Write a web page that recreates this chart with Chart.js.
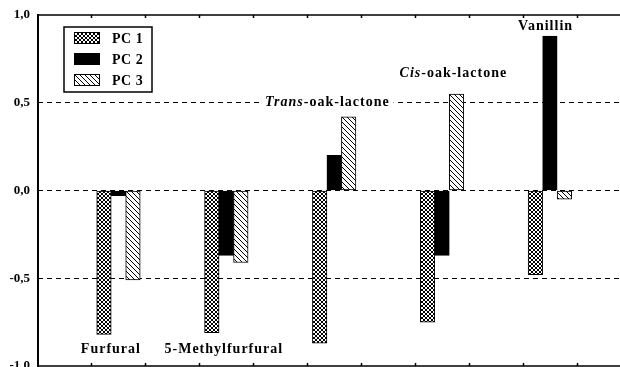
<!DOCTYPE html>
<html>
<head>
<meta charset="utf-8">
<script src="https://cdn.jsdelivr.net/npm/chart.js"></script>
<style>body{margin:0;background:#fff}</style>
</head>
<body>
<canvas id="pcaChart" width="620" height="367"></canvas>
<script>
const compounds = ['Furfural', '5-Methylfurfural', 'Trans-oak-lactone', 'Cis-oak-lactone', 'Vanillin'];
const pc1 = [-0.82, -0.81, -0.87, -0.75, -0.48];
const pc2 = [-0.03, -0.37, 0.20, -0.37, 0.88];
const pc3 = [-0.51, -0.41, 0.42, 0.55, -0.05];
const yTicks = [-1, -0.5, 0, 0.5, 1];

const serif = '"Liberation Serif", "Times New Roman", serif';

function makePattern(kind) {
  const n = kind === 'cross' ? 4 : 5;
  const c = document.createElement('canvas');
  c.width = c.height = n;
  const g = c.getContext('2d');
  g.fillStyle = '#fff';
  g.fillRect(0, 0, n, n);
  g.strokeStyle = '#000';
  g.lineWidth = 1;
  g.beginPath();
  g.moveTo(-1, -1); g.lineTo(n + 1, n + 1);
  if (kind === 'cross') { g.moveTo(n + 1, -1); g.lineTo(-1, n + 1); }
  g.stroke();
  return g.createPattern(c, 'repeat');
}

const crossFill = makePattern('cross');
const diagFill = makePattern('diag');

const toPoints = arr => arr.map((v, i) => ({x: i + 1, y: v}));

// category name labels drawn inside the plot (x in category units, y in data units)
const nameLabels = {
  id: 'nameLabels',
  spots: [
    {parts: [['Furfural', false]], x: 0.93, y: -0.905},
    {parts: [['5-Methylfurfural', false]], x: 1.977, y: -0.905},
    {parts: [['Trans', true], ['-oak-lactone', false]], x: 2.937, y: 0.503},
    {parts: [['Cis', true], ['-oak-lactone', false]], x: 4.105, y: 0.668},
    {parts: [['Vanillin', false]], x: 4.96, y: 0.935}
  ],
  afterDatasetsDraw(chart) {
    const {ctx, scales: {x, y}} = chart;
    ctx.save();
    ctx.letterSpacing = '1px';
    ctx.textBaseline = 'middle';
    ctx.textAlign = 'left';
    this.spots.forEach(s => {
      const widths = s.parts.map(([t, it]) => {
        ctx.font = (it ? 'italic ' : '') + 'bold 14px ' + serif;
        return ctx.measureText(t).width;
      });
      const total = widths.reduce((a, b) => a + b, 0);
      let px = x.getPixelForValue(s.x) - total / 2;
      const py = y.getPixelForValue(s.y);
      ctx.fillStyle = '#fff';
      ctx.fillRect(px - 4, py - 8, total + 8, 16);
      ctx.fillStyle = '#000';
      s.parts.forEach(([t, it], k) => {
        ctx.font = (it ? 'italic ' : '') + 'bold 14px ' + serif;
        ctx.fillText(t, px, py);
        px += widths[k];
      });
    });
    ctx.restore();
  }
};

const frame = {
  id: 'frame',
  beforeDatasetsDraw(chart) {
    const {ctx, chartArea: a, scales: {x}} = chart;
    ctx.save();
    ctx.strokeStyle = '#000';
    ctx.lineWidth = 1.5;
    ctx.beginPath();
    ctx.moveTo(a.left, a.top); ctx.lineTo(a.right, a.top);
    ctx.moveTo(a.left, a.bottom); ctx.lineTo(a.right, a.bottom);
    for (let v = 0.75; v < x.max; v += 0.5) {
      const px = Math.round(x.getPixelForValue(v)) + 0.5;
      ctx.moveTo(px, a.top); ctx.lineTo(px, a.top + 3);
      ctx.moveTo(px, a.bottom); ctx.lineTo(px, a.bottom - 3);
    }
    ctx.stroke();
    ctx.lineWidth = 2;
    ctx.beginPath();
    ctx.moveTo(a.left, a.top - 1); ctx.lineTo(a.left, a.bottom + 1);
    ctx.stroke();
    ctx.restore();
  }
};

const boxLegend = {
  id: 'boxLegend',
  afterDraw(chart) {
    const {ctx} = chart;
    ctx.save();
    ctx.fillStyle = '#fff';
    ctx.fillRect(64, 27, 88, 65);
    ctx.strokeStyle = '#000';
    ctx.lineWidth = 1.5;
    ctx.strokeRect(64, 27, 88, 65);
    ctx.font = 'bold 14px ' + serif;
    ctx.textBaseline = 'middle';
    ctx.letterSpacing = '0.5px';
    chart.data.datasets.forEach((ds, i) => {
      const cy = 38 + i * 21;
      ctx.fillStyle = ds.backgroundColor;
      ctx.fillRect(74, cy - 6, 26, 12);
      ctx.lineWidth = 1;
      ctx.strokeRect(74.5, cy - 5.5, 25, 11);
      ctx.fillStyle = '#000';
      ctx.fillText(ds.label, 112, cy + 1);
    });
    ctx.restore();
  }
};

const barStyle = {borderColor: '#000', borderWidth: 1, borderSkipped: false, barThickness: 14.5};

new Chart(document.getElementById('pcaChart'), {
  type: 'bar',
  data: {
    labels: compounds,
    datasets: [
      {label: 'PC 1', data: toPoints(pc1), backgroundColor: crossFill, ...barStyle},
      {label: 'PC 2', data: toPoints(pc2), backgroundColor: '#000', ...barStyle},
      {label: 'PC 3', data: toPoints(pc3), backgroundColor: diagFill, ...barStyle}
    ]
  },
  options: {
    responsive: false,
    animation: false,
    layout: {padding: {top: 15, bottom: 1, right: 0, left: 0}},
    plugins: {legend: {display: false}, tooltip: {enabled: false}},
    scales: {
      x: {
        type: 'linear',
        offset: false,
        min: 0.254,
        max: 5.65,
        display: false
      },
      y: {
        min: -1,
        max: 1,
        afterBuildTicks: s => { s.ticks = yTicks.map(v => ({value: v})); },
        afterFit: s => { s.width = 38; s.paddingTop = 0; s.paddingBottom = 0; },
        ticks: {
          color: '#000',
          padding: 8,
          font: {family: serif, weight: 'bold', size: 13},
          callback: v => v.toFixed(1).replace('.', ',')
        },
        grid: {
          drawTicks: false,
          lineWidth: 1,
          color: c => (c.tick && Math.abs(c.tick.value) < 0.9) ? '#000' : 'rgba(0,0,0,0)'
        },
        border: {display: false, dash: [5, 4]}
      }
    }
  },
  plugins: [frame, nameLabels, boxLegend]
});
</script>
</body>
</html>
